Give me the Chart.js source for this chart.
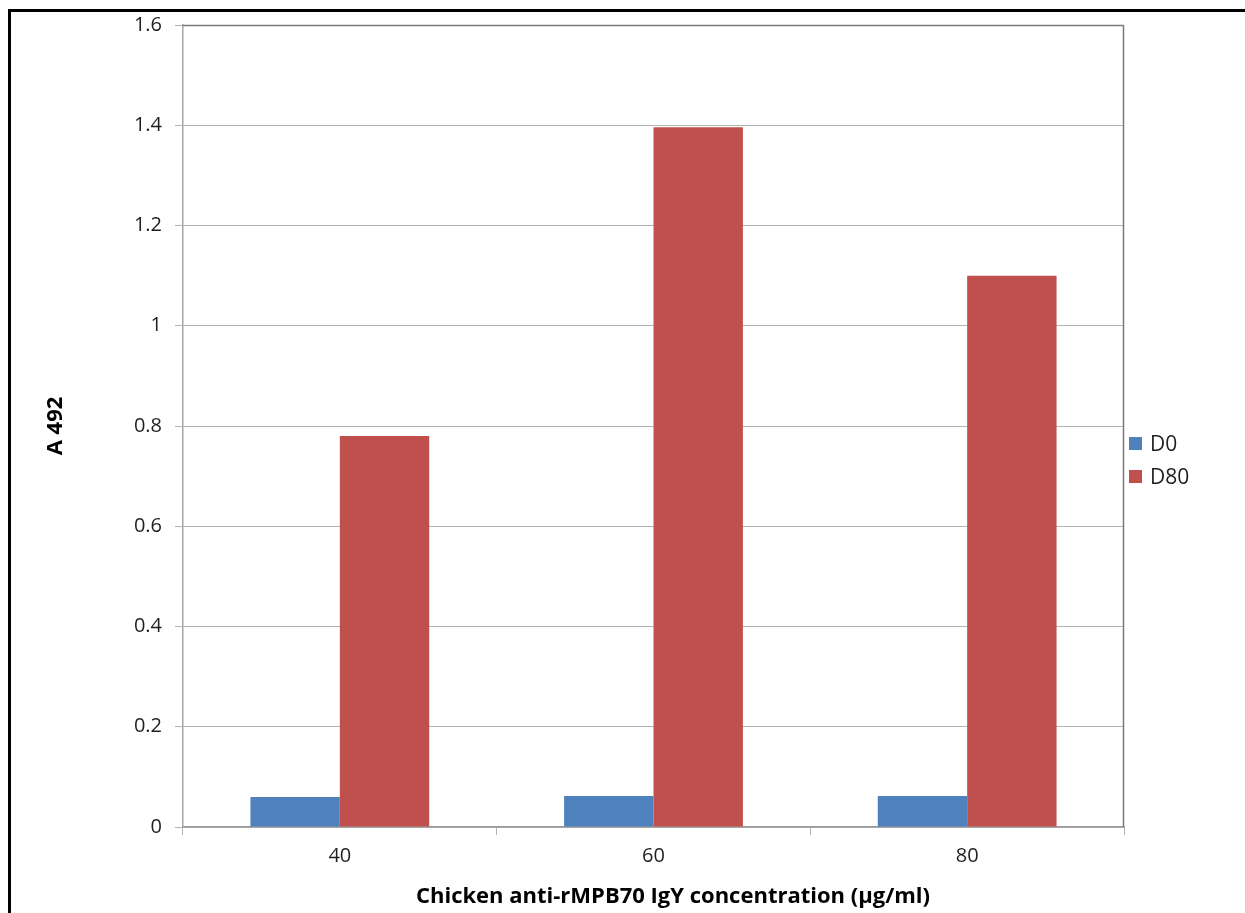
<!DOCTYPE html>
<html>
<head>
<meta charset="utf-8">
<script src="https://cdn.jsdelivr.net/npm/chart.js@4.4.1/dist/chart.umd.min.js"></script>
<style>
  html, body { margin: 0; padding: 0; background: #fff; }
  #wrap { position: relative; width: 1245px; height: 913px; }
</style>
</head>
<body>
<div id="wrap"><canvas id="chart"></canvas></div>
<script>
// Valores (A 492 por concentración)
const categories = ["40", "60", "80"];
const seriesNames = ["D0", "D80"];
const d0Values = [0.06, 0.062, 0.062];
const d80Values = [0.78, 1.396, 1.1];
const yTicks = [0, 0.2, 0.4, 0.6, 0.8, 1, 1.2, 1.4, 1.6];
const xTitle = "Chicken anti-rMPB70 IgY concentration (µg/ml)";

const COLORS = { d0: "#4f81bd", d80: "#c0504d", grid: "#b3b3b3", frame: "#7a7a7a", text: "#1f1f1f" };
const FONT = "'Open Sans', 'Liberation Sans', sans-serif";

// marco negro exterior, bordes del área de trazado, título X y leyenda a mano
const framePlugin = {
  id: "frame",
  afterDraw(chart) {
    const { ctx, chartArea: a } = chart;
    ctx.save();
    ctx.fillStyle = "#000";
    ctx.fillRect(8, 9, 3, 913 - 9);
    ctx.fillRect(8, 9, 1245 - 8, 3);

    ctx.strokeStyle = COLORS.frame;
    ctx.lineWidth = 1.5;
    ctx.beginPath();
    ctx.moveTo(a.left, a.top + 0.5);
    ctx.lineTo(a.right - 0.5, a.top + 0.5);
    ctx.lineTo(a.right - 0.5, a.bottom);
    ctx.stroke();

    // título del eje X (en el original está algo corrido a la derecha)
    ctx.fillStyle = "#000";
    ctx.font = "bold 22px " + FONT;
    ctx.textAlign = "center";
    ctx.textBaseline = "middle";
    ctx.fillText(xTitle, 673, 897);

    // leyenda
    ctx.font = "21px " + FONT;
    ctx.textAlign = "left";
    chart.data.datasets.forEach((ds, i) => {
      const y = 444 + i * 33;
      ctx.fillStyle = ds.backgroundColor;
      ctx.fillRect(1129, y - 7, 13, 13);
      ctx.fillStyle = COLORS.text;
      ctx.fillText(ds.label, 1150, y + 1);
    });
    ctx.restore();
  },
};

new Chart(document.getElementById("chart"), {
  type: "bar",
  data: {
    labels: categories,
    datasets: [
      { label: seriesNames[0], data: d0Values, backgroundColor: COLORS.d0 },
      { label: seriesNames[1], data: d80Values, backgroundColor: COLORS.d80 },
    ],
  },
  options: {
    responsive: true,
    maintainAspectRatio: false,
    animation: false,
    layout: { padding: { left: 10, top: 25, right: 121, bottom: 0 } },
    datasets: { bar: { categoryPercentage: 0.57, barPercentage: 1.0 } },
    plugins: { legend: { display: false }, tooltip: { enabled: false } },
    scales: {
      x: {
        grid: { offset: true, drawOnChartArea: false, tickLength: 8, color: COLORS.grid },
        border: { color: "#9a9a9a", width: 1.5 },
        ticks: { color: COLORS.text, font: { family: FONT, size: 20 }, padding: 9 },
        afterFit(scale) { scale.height = 86; },
      },
      y: {
        min: 0,
        max: 1.6,
        afterBuildTicks(scale) { scale.ticks = yTicks.map((v) => ({ value: v })); },
        grid: { color: COLORS.grid, tickLength: 8, lineWidth: 1 },
        border: { color: "#a6a6a6", width: 1.5 },
        ticks: { color: COLORS.text, font: { family: FONT, size: 20 }, padding: 13, callback: (v) => String(v) },
        title: {
          display: true,
          text: "A 492",
          color: "#000",
          font: { family: FONT, size: 22, weight: "bold" },
          padding: { top: 33, bottom: 0 },
        },
        afterFit(scale) { scale.width = 173; },
      },
    },
  },
  plugins: [framePlugin],
});
</script>
</body>
</html>
